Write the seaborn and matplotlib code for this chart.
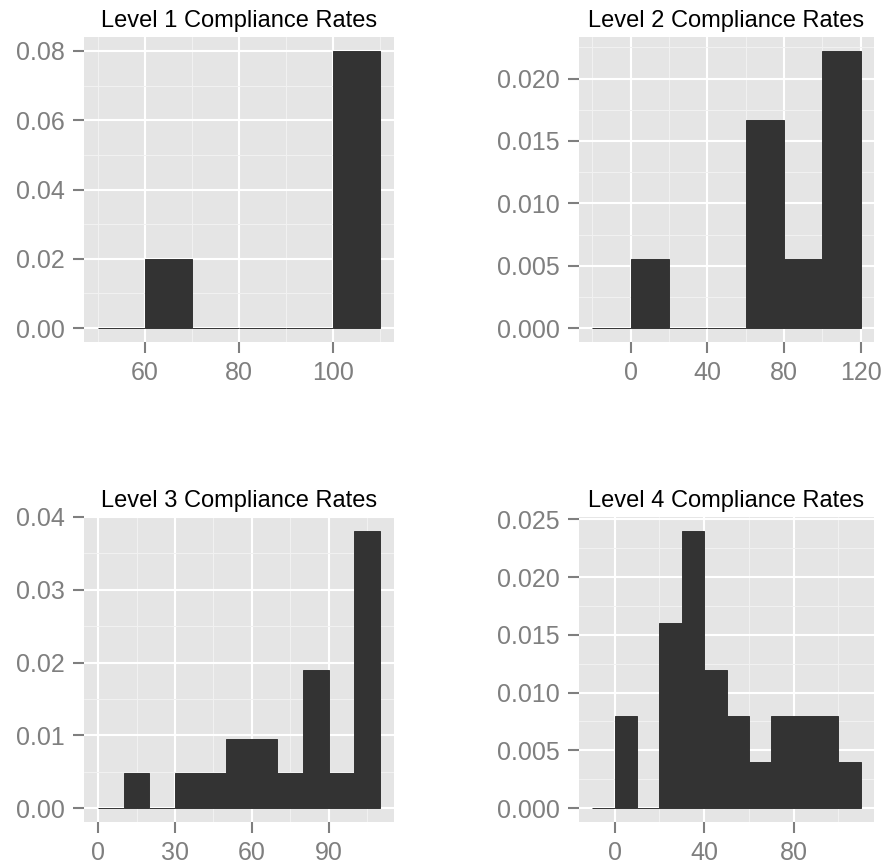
import numpy as np
import pandas as pd
import matplotlib
matplotlib.use("Agg")
import matplotlib.pyplot as plt
import seaborn as sns
from matplotlib.ticker import MultipleLocator, FormatStrFormatter

sns.set_style("white")
plt.rcParams['font.family'] = ['Liberation Sans', 'DejaVu Sans']

# ---- data: bin edges and counts per bin for each level ----
titles = ["Level 1 Compliance Rates", "Level 2 Compliance Rates",
          "Level 3 Compliance Rates", "Level 4 Compliance Rates"]

level1_edges = [50, 60, 70, 80, 90, 100, 110]
level1_counts = [0, 1, 0, 0, 0, 4]

level2_edges = [-20, 0, 20, 40, 60, 80, 100, 120]
level2_counts = [0, 1, 0, 0, 3, 1, 4]

level3_edges = [0, 10, 20, 30, 40, 50, 60, 70, 80, 90, 100, 110]
level3_counts = [0, 1, 0, 1, 1, 2, 2, 1, 4, 1, 8]

level4_edges = [-10, 0, 10, 20, 30, 40, 50, 60, 70, 80, 90, 100, 110]
level4_counts = [0, 2, 0, 4, 6, 3, 2, 1, 2, 2, 2, 1]

x_major = [20, 40, 30, 40]
y_major = [0.02, 0.005, 0.01, 0.005]
y_fmt = ["%.2f", "%.3f", "%.2f", "%.3f"]

edges_all = [level1_edges, level2_edges, level3_edges, level4_edges]
counts_all = [level1_counts, level2_counts, level3_counts, level4_counts]

W, H = 886, 867
fig = plt.figure(figsize=(W / 100, H / 100), dpi=100)

boxes = [(84, 37, 394, 342), (579, 37, 874, 342),
         (84, 517, 394, 822), (579, 517, 874, 822)]

grey50 = "#7F7F7F"
for i in range(4):
    l, t, r, b = boxes[i]
    ax = fig.add_axes([l / W, (H - b) / H, (r - l) / W, (b - t) / H])
    edges = list(edges_all[i])
    counts = list(counts_all[i])
    centers = [(edges[k] + edges[k + 1]) / 2 for k in range(len(counts))]
    df = pd.DataFrame({"x": centers, "w": counts})
    sns.histplot(data=df, x="x", weights="w", bins=edges, stat="density",
                 color="#333333", alpha=1, edgecolor="#333333",
                 linewidth=0.7, ax=ax)
    ax.set_xlabel("")
    ax.set_ylabel("")
    ax.set_facecolor("#E5E5E5")
    for s in ax.spines.values():
        s.set_visible(False)
    e = np.array(edges, dtype=float)
    c = np.array(counts, dtype=float)
    xr = e[-1] - e[0]
    ax.set_xlim(e[0] - 0.05 * xr, e[-1] + 0.05 * xr)
    dens = c / (c.sum() * np.diff(e))
    ymax = dens.max()
    ax.set_ylim(-0.05 * ymax, ymax * 1.05)

    ax.xaxis.set_major_locator(MultipleLocator(x_major[i]))
    ax.xaxis.set_minor_locator(MultipleLocator(x_major[i] / 2))
    ax.yaxis.set_major_locator(MultipleLocator(y_major[i]))
    ax.yaxis.set_minor_locator(MultipleLocator(y_major[i] / 2))
    ax.yaxis.set_major_formatter(FormatStrFormatter(y_fmt[i]))
    if i == 0:
        ax.xaxis.set_minor_locator(MultipleLocator(10))
        ax.set_xticks([60, 80, 100])
    ax.set_axisbelow(True)
    ax.grid(which="major", color="white", linewidth=1.5)
    ax.grid(which="minor", color="#F2F2F2", linewidth=0.7)
    ax.tick_params(which="major", bottom=True, left=True, direction="out",
                   length=8, width=1.5, color=grey50,
                   labelcolor=grey50, labelsize=18, pad=6)
    ax.tick_params(which="minor", length=0)
    ax.set_title(titles[i], fontsize=17, color="black", pad=7)

fig.savefig("out.png", dpi=100, facecolor="white")
